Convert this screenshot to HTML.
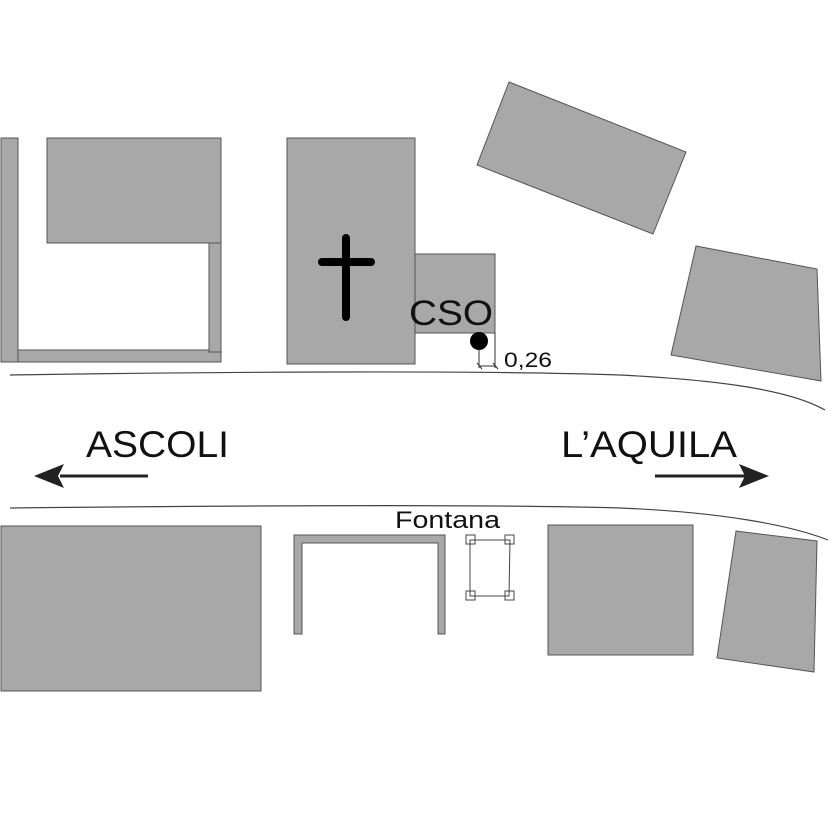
<!DOCTYPE html>
<html><head><meta charset="utf-8"><style>
html,body{margin:0;padding:0;background:#fff;}
svg{display:block;}
text{font-family:"Liberation Sans",Arial,sans-serif;fill:#111;}
</style></head><body>
<svg width="829" height="827" viewBox="0 0 829 827" xmlns="http://www.w3.org/2000/svg">
<g fill="#a8a8a8" stroke="#555" stroke-width="1">
<rect x="1" y="138" width="17" height="224"/>
<rect x="18" y="350" width="203" height="12"/>
<rect x="209" y="240" width="12" height="112"/>
<rect x="47" y="138" width="174" height="105"/>
<rect x="287" y="138" width="128" height="226"/>
<rect x="415" y="254" width="80" height="79"/>
<polygon points="509,82 686,152 653,234 477,165"/>
<polygon points="696,246 817,269 821,381 671,355"/>
<rect x="1" y="526" width="260" height="165"/>
<rect x="548" y="525" width="145" height="130"/>
<polygon points="736,531 817,541 814,672 717,658"/>
<path d="M294,535 H445 V634 H438 V543 H302 V634 H294 Z"/>
</g>
<rect x="342" y="234" width="8" height="87" rx="4" fill="#000"/>
<rect x="318" y="258" width="57" height="8" rx="4" fill="#000"/>
<text x="409" y="325" font-size="35" textLength="84" lengthAdjust="spacingAndGlyphs">CSO</text>
<circle cx="479" cy="341" r="9" fill="#000"/>
<g stroke="#333" stroke-width="1" fill="none">
<line x1="479" y1="350" x2="479" y2="368"/>
<line x1="495" y1="333" x2="495" y2="368"/>
<line x1="479" y1="366" x2="495" y2="366"/>
<line x1="477" y1="363" x2="482" y2="369"/>
<line x1="493" y1="363" x2="498" y2="369"/>
</g>
<text x="504" y="367" font-size="21" textLength="48" lengthAdjust="spacingAndGlyphs">0,26</text>
<path d="M10,375 C200,372 480,370 620,375 C720,380 790,390 825,410" stroke="#444" stroke-width="1.2" fill="none"/>
<path d="M10,508 C200,506 480,504 620,508 C720,512 790,525 828,540" stroke="#444" stroke-width="1.2" fill="none"/>
<text x="86" y="457" font-size="37" textLength="143" lengthAdjust="spacingAndGlyphs">ASCOLI</text>
<text x="561" y="457" font-size="37" textLength="176" lengthAdjust="spacingAndGlyphs">L’AQUILA</text>
<line x1="60" y1="476" x2="148" y2="476" stroke="#222" stroke-width="3"/>
<polygon points="34,476 64,464 58,476 64,488" fill="#222"/>
<line x1="655" y1="476" x2="745" y2="476" stroke="#222" stroke-width="3"/>
<polygon points="769,476 739,464 745,476 739,488" fill="#222"/>
<text x="395" y="528" font-size="24" textLength="105" lengthAdjust="spacingAndGlyphs">Fontana</text>
<g stroke="#444" stroke-width="1" fill="none">
<polygon points="470,540 510,540 509,596 470,596"/>
<rect x="466" y="535" width="9" height="9"/>
<rect x="505" y="535" width="9" height="9"/>
<rect x="466" y="591" width="9" height="9"/>
<rect x="505" y="591" width="9" height="9"/>
</g>
</svg>
</body></html>
